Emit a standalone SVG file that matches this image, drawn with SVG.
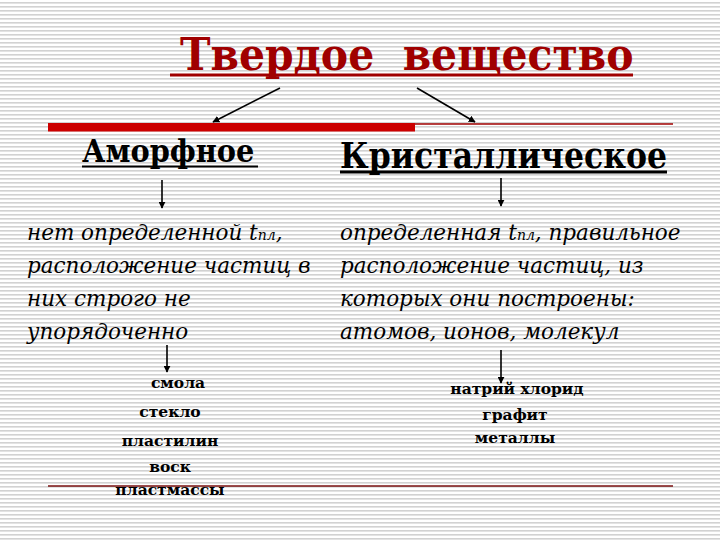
<svg xmlns="http://www.w3.org/2000/svg" width="720" height="540" viewBox="0 0 720 540">
<defs>
<pattern id="stripes" width="720" height="4" patternUnits="userSpaceOnUse">
<rect x="0" y="0" width="720" height="4" fill="#ffffff"/>
<rect x="0" y="2" width="720" height="1.6" fill="#d2d2d2"/>
</pattern>
<marker id="ah" viewBox="0 0 10 10" refX="9" refY="5" markerWidth="7" markerHeight="7" orient="auto" markerUnits="userSpaceOnUse">
<path d="M0,0 L10,5 L0,10 Z" fill="#000"/>
</marker>
<style>
.title{font-family:"DejaVu Serif Condensed","DejaVu Serif",serif;font-stretch:condensed;font-weight:bold;fill:#a00000;white-space:pre}
.head{font-family:"DejaVu Serif Condensed","DejaVu Serif",serif;font-stretch:condensed;font-weight:bold;fill:#000}
.it{font-family:"DejaVu Serif","Liberation Serif",serif;font-style:italic;font-size:21.5px;fill:#000}
.sub{font-size:14px}
.lst{font-family:"DejaVu Serif","Liberation Serif",serif;font-weight:bold;font-size:15.5px;fill:#000;text-anchor:middle}
.conn{stroke:#000;stroke-width:1.6;fill:none}
</style>
</defs>
<rect width="720" height="540" fill="url(#stripes)"/>

<g id="title">
<text class="title" x="180" y="70" font-size="45.5" xml:space="preserve">Твердое  вещество</text>
<line x1="170" y1="75" x2="633" y2="75" stroke="#a00000" stroke-width="3"/>
</g>

<g id="rule">
<rect x="48" y="123" width="367" height="8.5" fill="#cc0000"/>
<line x1="415" y1="124" x2="673" y2="124" stroke="#a00000" stroke-width="1.5"/>
</g>

<g id="amorphous">
<text class="head" x="82" y="162" font-size="32">Аморфное</text>
<line x1="82" y1="166.5" x2="258" y2="166.5" stroke="#000" stroke-width="2"/>
</g>

<g id="crystalline">
<text class="head" x="340" y="168" font-size="35">Кристаллическое</text>
<line x1="340" y1="172" x2="667" y2="172" stroke="#000" stroke-width="3"/>
</g>

<g id="amorphous-desc">
<text class="it" x="27" y="240">нет определенной t<tspan class="sub">пл</tspan>,</text>
<text class="it" x="27" y="273">расположение частиц в</text>
<text class="it" x="27" y="306">них строго не</text>
<text class="it" x="27" y="339">упорядоченно</text>
</g>

<g id="crystalline-desc">
<text class="it" x="340" y="240">определенная t<tspan class="sub">пл</tspan>, правильное</text>
<text class="it" x="340" y="273">расположение частиц, из</text>
<text class="it" x="340" y="306">которых они построены:</text>
<text class="it" x="340" y="339">атомов, ионов, молекул</text>
</g>

<g id="amorphous-examples">
<text class="lst" x="178" y="388">смола</text>
<text class="lst" x="170" y="417">стекло</text>
<text class="lst" x="170" y="446">пластилин</text>
<text class="lst" x="170" y="472">воск</text>
<text class="lst" x="170" y="495">пластмассы</text>
</g>

<g id="crystalline-examples">
<text class="lst" x="517" y="394">натрий хлорид</text>
<text class="lst" x="515" y="420">графит</text>
<text class="lst" x="515" y="443">металлы</text>
</g>

<g id="bottom-rule">
<line x1="48" y1="486" x2="673" y2="486" stroke="#7a1010" stroke-width="1.6"/>
</g>

<g id="connectors">
<line class="conn" x1="280" y1="88" x2="213" y2="122" marker-end="url(#ah)"/>
<line class="conn" x1="417" y1="88" x2="475" y2="122" marker-end="url(#ah)"/>
<line class="conn" x1="162" y1="180" x2="162" y2="208" marker-end="url(#ah)"/>
<line class="conn" x1="501" y1="178" x2="501" y2="206" marker-end="url(#ah)"/>
<line class="conn" x1="167" y1="345" x2="167" y2="372" marker-end="url(#ah)"/>
<line class="conn" x1="501" y1="350" x2="501" y2="383" marker-end="url(#ah)"/>
</g>
</svg>
